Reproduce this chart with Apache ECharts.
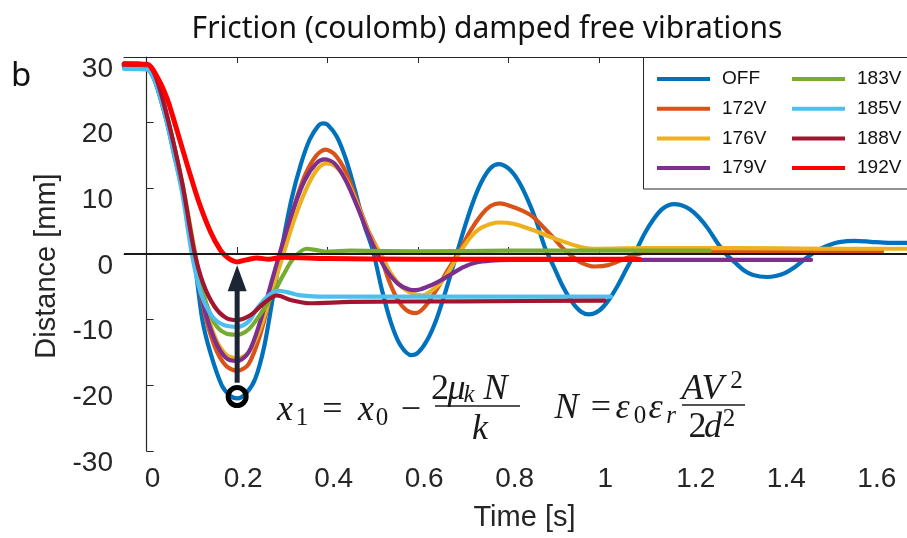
<!DOCTYPE html>
<html>
<head>
<meta charset="utf-8">
<script src="https://cdn.jsdelivr.net/npm/echarts@6.0.0/dist/echarts.min.js"></script>
<style>
  html, body { margin: 0; padding: 0; background: #fff; }
  #container { width: 907px; height: 538px; }
</style>
</head>
<body>
<div id="container"></div>
<script>
// [time s, distance mm]
const offData = [[-0.05,28.5],[-0.01,28.5],[0.005,28],[0.02,26],[0.045,20],[0.06,15.3],[0.078,10],[0.09,5.5],[0.104,0],[0.123,-10],[0.142,-15.3],[0.166,-20],[0.185,-21.6],[0.2,-22],[0.22,-21.2],[0.24,-19],[0.26,-14],[0.28,-6.2],[0.3,1.4],[0.32,8.3],[0.34,13.5],[0.36,17.4],[0.38,19.6],[0.39,19.9],[0.4,19.7],[0.42,17.9],[0.44,14.5],[0.46,9.8],[0.48,4.6],[0.5,0.5],[0.52,-5.5],[0.54,-10.5],[0.56,-13.8],[0.585,-15.4],[0.6,-15],[0.62,-13.1],[0.64,-10],[0.66,-5.8],[0.68,-1.2],[0.7,3.5],[0.72,7.7],[0.74,11],[0.76,13.1],[0.778,13.7],[0.8,13],[0.82,11.3],[0.84,8.6],[0.86,5.2],[0.88,1],[0.9,-2],[0.92,-5],[0.94,-7.3],[0.96,-8.8],[0.977,-9.2],[1,-8.6],[1.02,-7.1],[1.04,-4.9],[1.06,-2.3],[1.08,0.3],[1.1,3.1],[1.12,5.3],[1.14,6.9],[1.165,7.6],[1.18,7.45],[1.2,6.8],[1.22,5.6],[1.24,3.9],[1.26,1.8],[1.28,0],[1.3,-1.3],[1.32,-2.5],[1.34,-3.2],[1.37,-3.5],[1.39,-3.35],[1.41,-2.9],[1.43,-2.1],[1.45,-1],[1.47,0],[1.49,0.8],[1.51,1.4],[1.53,1.8],[1.565,2],[1.6,1.85],[1.64,1.7],[1.68,1.7]];
const v172 = [[-0.05,29],[0,28.8],[0.02,26.5],[0.045,20.5],[0.078,10.5],[0.105,0],[0.125,-8],[0.15,-14],[0.175,-17],[0.2,-17.8],[0.225,-16.8],[0.25,-12.5],[0.275,-6],[0.3,0.5],[0.325,7],[0.35,12],[0.375,15],[0.395,15.9],[0.415,15.2],[0.44,12.5],[0.465,8],[0.49,3.5],[0.515,0],[0.535,-4],[0.555,-7],[0.575,-8.6],[0.595,-9],[0.615,-8],[0.64,-5.5],[0.665,-2.5],[0.69,0.3],[0.715,3.5],[0.74,6],[0.76,7.3],[0.78,7.7],[0.8,7.4],[0.83,6.6],[0.853,5.7],[0.875,4.2],[0.897,2.6],[0.915,1.2],[0.934,0],[0.96,-1.3],[0.99,-1.9],[1.02,-1.7],[1.05,-0.9],[1.08,-0.1],[1.11,0.3],[1.2,0.4],[1.4,0.4],[1.625,0.4]];
const v176 = [[-0.05,29],[0,28.8],[0.02,26.5],[0.045,21],[0.078,11],[0.105,1],[0.125,-6.5],[0.15,-12.5],[0.175,-15.3],[0.2,-15.9],[0.225,-15],[0.25,-11.5],[0.275,-6],[0.3,-0.5],[0.325,5],[0.35,9.5],[0.375,12.7],[0.397,13.8],[0.42,13.2],[0.445,10.8],[0.47,6.8],[0.495,2.5],[0.518,0],[0.54,-3],[0.565,-5.1],[0.59,-6.1],[0.61,-6.3],[0.635,-5.3],[0.66,-3.5],[0.69,0],[0.715,2.5],[0.74,4],[0.78,4.8],[0.81,4.6],[0.853,3.65],[0.912,2.1],[0.963,1],[1,0.8],[1.1,0.9],[1.3,0.9],[1.5,0.8],[1.68,0.8]];
const v179 = [[-0.05,29],[0,28.9],[0.02,27],[0.045,21],[0.078,10.5],[0.105,0],[0.125,-7.5],[0.15,-13],[0.175,-15.8],[0.2,-16.3],[0.225,-15],[0.25,-10.5],[0.275,-4.5],[0.3,1.5],[0.325,7],[0.35,11.3],[0.375,13.8],[0.393,14.4],[0.415,13.8],[0.44,11.2],[0.465,7.3],[0.49,3],[0.51,0],[0.53,-2.5],[0.555,-4.5],[0.58,-5.4],[0.595,-5.5],[0.62,-5],[0.645,-4.2],[0.67,-3.2],[0.7,-2],[0.728,-1.3],[0.76,-1],[0.8,-0.9],[1,-0.9],[1.2,-0.9],[1.468,-0.9]];
const v183 = [[-0.05,29],[0,28.9],[0.02,27],[0.045,21],[0.078,11],[0.105,0.5],[0.125,-6],[0.15,-10.5],[0.175,-12.1],[0.2,-12.3],[0.225,-11.5],[0.25,-9.3],[0.279,-6.2],[0.302,-3.2],[0.324,-0.7],[0.353,0.8],[0.375,0.6],[0.4,0.35],[0.45,0.5],[0.6,0.4],[0.8,0.5],[1,0.5],[1.244,0.5]];
const v185 = [[-0.05,28.2],[0,28.1],[0.02,26],[0.045,20],[0.078,9.5],[0.1,0],[0.12,-6],[0.145,-9.5],[0.17,-10.8],[0.2,-11.1],[0.225,-10.3],[0.245,-8.2],[0.27,-6.3],[0.29,-5.6],[0.31,-5.8],[0.34,-6.3],[0.4,-6.5],[0.6,-6.5],[0.8,-6.5],[1.026,-6.5]];
const v188 = [[-0.05,29],[0,28.9],[0.02,27],[0.045,21],[0.078,11],[0.105,0.5],[0.125,-4.5],[0.15,-8],[0.175,-9.7],[0.2,-10.05],[0.23,-9.3],[0.259,-7.5],[0.288,-6.3],[0.318,-7],[0.36,-7.5],[0.45,-7.3],[0.7,-7.2],[1.012,-7.1]];
const v192 = [[-0.05,28.9],[0,28.9],[0.023,27],[0.045,23.7],[0.068,18.6],[0.09,13.5],[0.115,8],[0.141,3.4],[0.163,0.6],[0.18,-0.6],[0.2,-1.2],[0.22,-0.9],[0.244,-0.6],[0.27,-0.8],[0.3,-0.5],[0.4,-0.7],[0.6,-0.8],[0.8,-0.8],[1.089,-0.8]];

const names = ['OFF', '172V', '176V', '179V', '183V', '185V', '188V', '192V'];
const allData = [offData, v172, v176, v179, v183, v185, v188, v192];
const myColor = ['#0072BD', '#D95319', '#EDB120', '#7E2F8E', '#77AC30', '#4DBEEE', '#A2142F', '#FF0000'];
const xTicks = [0, 0.2, 0.4, 0.6, 0.8, 1, 1.2, 1.4, 1.6];

// arrow and ring annotation, data units
const arrowFrom = [0.2, -19.6];
const arrowTo = [0.2, -1.7];
const ringAt = [0.2, -21.7];

const axisColor = '#262626';
const sans = 'Liberation Sans';

let chartDom = document.getElementById('container');
let myChart = echarts.init(chartDom, null, { renderer: 'canvas' });

function legendCol(data, left) {
  return {
    data: data,
    left: left,
    top: 69,
    orient: 'vertical',
    icon: 'rect',
    itemWidth: 53,
    itemHeight: 4,
    itemGap: 9.7,
    padding: 0,
    z: 5,
    textStyle: { fontSize: 19, fontFamily: sans, color: '#111', lineHeight: 20, padding: [0, 0, 0, 7] }
  };
}

let option = {
  animation: false,
  title: {
    text: 'Friction (coulomb) damped free vibrations',
    left: 482,
    top: 9,
    textAlign: 'center',
    textStyle: { fontFamily: 'Noto Sans', fontSize: 30, fontWeight: 'normal', color: '#111' }
  },
  legend: [legendCol(names.slice(0, 4), 657), legendCol(names.slice(4), 792)],
  grid: { left: 124, top: 57, right: 0, bottom: 87 },
  xAxis: [
    {
      type: 'value',
      min: -0.05,
      max: 1.68,
      name: 'Time [s]',
      nameLocation: 'middle',
      nameGap: 52,
      nameTextStyle: { fontSize: 29, fontFamily: sans, color: axisColor, padding: [0, 0, 0, 18] },
      axisLine: { show: true, lineStyle: { color: axisColor, width: 1.2 } },
      axisTick: { show: true, inside: true, length: 7, customValues: xTicks, lineStyle: { color: axisColor } },
      axisLabel: { customValues: xTicks, fontSize: 28, fontFamily: sans, color: axisColor, margin: 14, padding: [0, 0, 0, 12] },
      splitLine: { show: false }
    },
    {
      type: 'value',
      position: 'top',
      min: -0.05,
      max: 1.68,
      axisLine: { show: true, lineStyle: { color: axisColor, width: 1.2 } },
      axisTick: { show: true, inside: true, length: 6, customValues: xTicks, lineStyle: { color: axisColor } },
      axisLabel: { show: false },
      splitLine: { show: false }
    }
  ],
  yAxis: {
    type: 'value',
    min: -30,
    max: 30,
    interval: 10,
    name: 'Distance [mm]',
    nameLocation: 'middle',
    nameGap: 63,
    nameTextStyle: { fontSize: 29, fontFamily: sans, color: axisColor, padding: [0, 24, 0, 0] },
    axisLine: { show: true, lineStyle: { color: axisColor, width: 1.2 } },
    axisTick: { show: true, inside: true, length: 7, lineStyle: { color: axisColor } },
    axisLabel: { fontSize: 28, fontFamily: sans, color: axisColor, margin: 11, verticalAlign: 'top', lineHeight: 24 },
    splitLine: { show: false }
  },
  series: names.map(function (n, i) {
    let s = {
      name: n,
      type: 'line',
      data: allData[i],
      xAxisIndex: 0,
      showSymbol: false,
      symbol: 'none',
      smooth: 0.3,
      itemStyle: { color: myColor[i] },
      lineStyle: { width: i === 7 ? 5 : 4.2, color: myColor[i], cap: 'round', join: 'round' }
    };
    // black zero line
    if (i === 7) {
      s.markLine = {
        silent: true,
        symbol: 'none',
        label: { show: false },
        lineStyle: { color: '#1a1a1a', width: 2, type: 'solid' },
        data: [{ yAxis: 0 }]
      };
    }
    return s;
  })
};

myChart.setOption(option);

// annotations placed through the axes
const pFrom = myChart.convertToPixel({ xAxisIndex: 0, yAxisIndex: 0 }, arrowFrom);
const pTo = myChart.convertToPixel({ xAxisIndex: 0, yAxisIndex: 0 }, arrowTo);
const pRing = myChart.convertToPixel({ xAxisIndex: 0, yAxisIndex: 0 }, ringAt);
const headH = 26, headW = 19;
const arrowColor = '#1c2535';

const mathFont = 'Liberation Serif';
function sym(s, x, y, size, italic) {
  return {
    type: 'text', x: x, y: y, z: 20,
    style: {
      text: s, fill: '#1a1a1a',
      font: (italic ? 'italic ' : '') + size + 'px "' + mathFont + '"',
      textAlign: 'center', textVerticalAlign: 'middle', align: 'center', verticalAlign: 'middle'
    }
  };
}
function bar(x1, x2, y) {
  return { type: 'line', z: 20, shape: { x1: x1, y1: y, x2: x2, y2: y }, style: { stroke: '#1a1a1a', lineWidth: 1.5 } };
}

const M = 36, S = 25;
let graphic = [
  // legend frame
  { type: 'rect', z: 3, shape: { x: 643.5, y: 57.5, width: 300, height: 131.5 }, style: { fill: '#fff', stroke: axisColor, lineWidth: 1 } },
  // panel letter
  { type: 'text', x: 11, y: 77, z: 20, style: { text: 'b', fill: '#111', font: '33px "Noto Sans"', textVerticalAlign: 'middle', verticalAlign: 'middle' } },
  // arrow
  { type: 'line', z: 15, shape: { x1: pFrom[0], y1: pFrom[1], x2: pTo[0], y2: pTo[1] + headH - 4 }, style: { stroke: arrowColor, lineWidth: 5 } },
  { type: 'polygon', z: 15, shape: { points: [[pTo[0], pTo[1]], [pTo[0] - headW / 2, pTo[1] + headH], [pTo[0] + headW / 2, pTo[1] + headH]] }, style: { fill: arrowColor } },
  // ring
  { type: 'circle', z: 16, shape: { cx: pRing[0], cy: pRing[1], r: 9 }, style: { fill: 'none', stroke: '#000', lineWidth: 5 } },
  // x1 = x0 - 2 mu_k N / k
  sym('x', 285, 410.5, M, true),
  sym('1', 302, 418, S, false),
  sym('=', 332.5, 410.5, M, false),
  sym('x', 366, 410.5, M, true),
  sym('0', 382, 418, S, false),
  sym('\u2212', 411, 410.5, M, false),
  sym('2', 440, 389.5, M, false),
  sym('\u03bc', 456.5, 389.5, M, true),
  sym('k', 469, 395.5, S, true),
  sym('N', 495.5, 389.5, M, true),
  bar(435, 520, 406),
  sym('k', 480, 429.5, M, true),
  // N = eps0 epsr A V^2 / 2 d^2
  sym('N', 566.5, 409, M, true),
  sym('=', 601, 409, M, false),
  sym('\u03b5', 622.5, 409, M, true),
  sym('0', 640, 416, S, false),
  sym('\u03b5', 655.5, 409, M, true),
  sym('r', 671, 416, S, true),
  sym('A', 692.5, 389.5, M, true),
  sym('V', 712.5, 389.5, M, true),
  sym('2', 736.5, 381.5, S, false),
  bar(682, 745, 405),
  sym('2', 697.5, 427.5, M, false),
  sym('d', 713, 427.5, M, true),
  sym('2', 729, 419.5, S, false)
];

myChart.setOption({ graphic: graphic });

window.addEventListener('resize', function () {
  myChart.resize();
});
</script>
</body>
</html>
